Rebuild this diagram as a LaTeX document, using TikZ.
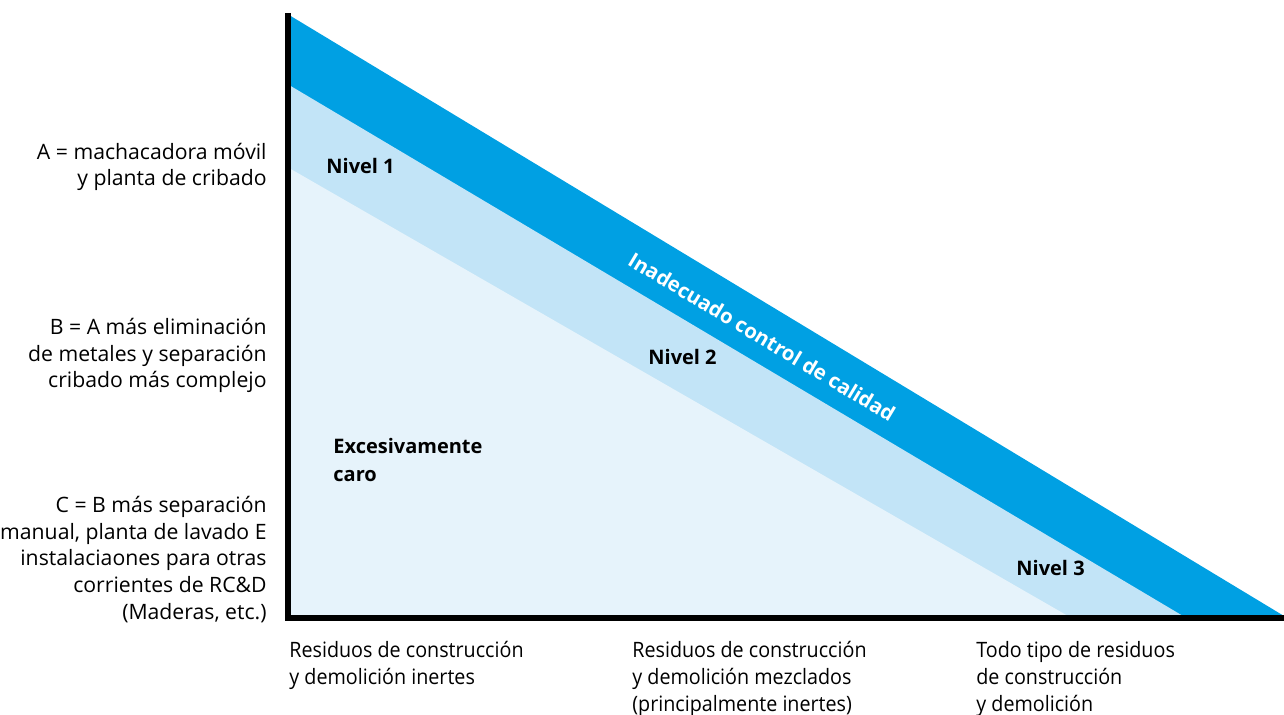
\documentclass[tikz,border=0pt]{standalone}
\usepackage{fontspec}
\setmainfont{Open Sans}
\newfontfamily\narrowfont[FakeStretch=0.93]{Open Sans}
\usepackage{tikz}

\definecolor{darkband}{RGB}{0,160,227}
\definecolor{midband}{RGB}{194,228,247}
\definecolor{lightband}{RGB}{230,243,251}

\begin{document}
\begin{tikzpicture}[x=0.5pt,y=-0.5pt]
    \tikzstyle{every node}+=[inner sep=0pt, font=\fontsize{10.6}{13.33}\selectfont]
    \tikzstyle{leftlabel}=[anchor=base east, align=right]
    \tikzstyle{bottomlabel}=[anchor=base west, align=left, font=\fontsize{10.6}{13.5}\selectfont\narrowfont]
    \tikzstyle{level}=[anchor=base west, align=left, font=\fontsize{10}{13.5}\selectfont\bfseries]
    \useasboundingbox (0,0) rectangle (1284,715);
    \coordinate (ytop) at (288,13);
    \coordinate (origin) at (288,618);
    \coordinate (xend) at (1284,618);
    % bands
    \fill [darkband] (289,15) -- (1284,616) -- (289,616) -- cycle;
    \fill [midband] (289,85) -- (1183,616) -- (289,616) -- cycle;
    \fill [lightband] (289,168) -- (1068,616) -- (289,616) -- cycle;
    % axes
    \draw [black, line width=2.6pt] (ytop) -- (origin) -- (xend);
    % left labels (base = last line)
    \node [leftlabel] (labA) at (267,186) {A = machacadora móvil\\y planta de cribado};
    \node [leftlabel] (labB) at (267,388) {B = A más eliminación\\de metales y separación\\cribado más complejo};
    \node [leftlabel] (labC) at (267,619) {C = B más separación\\manual, planta de lavado E\\instalaciaones para otras\\corrientes de RC\&D\\(Maderas, etc.)};
    % bottom labels
    \node [bottomlabel] (res1) at (289,684) {Residuos de construcción\\y demolición inertes};
    \node [bottomlabel] (res2) at (632,711) {Residuos de construcción\\y demolición mezclados\\(principalmente inertes)};
    \node [bottomlabel] (res3) at (976,711) {Todo tipo de residuos\\de construcción\\y demolición};
    % levels
    \node [level] (niv1) at (326,174) {Nivel 1};
    \node [level] (niv2) at (648,365) {Nivel 2};
    \node [level] (niv3) at (1016,575) {Nivel 3};
    \node [level] (caro) at (333,481) {Excesivamente\\caro};
    \node [white, rotate=-31, font=\fontsize{10.2}{12}\selectfont\bfseries] (inadecuado) at (762,337) {Inadecuado control de calidad};
\end{tikzpicture}
\end{document}
